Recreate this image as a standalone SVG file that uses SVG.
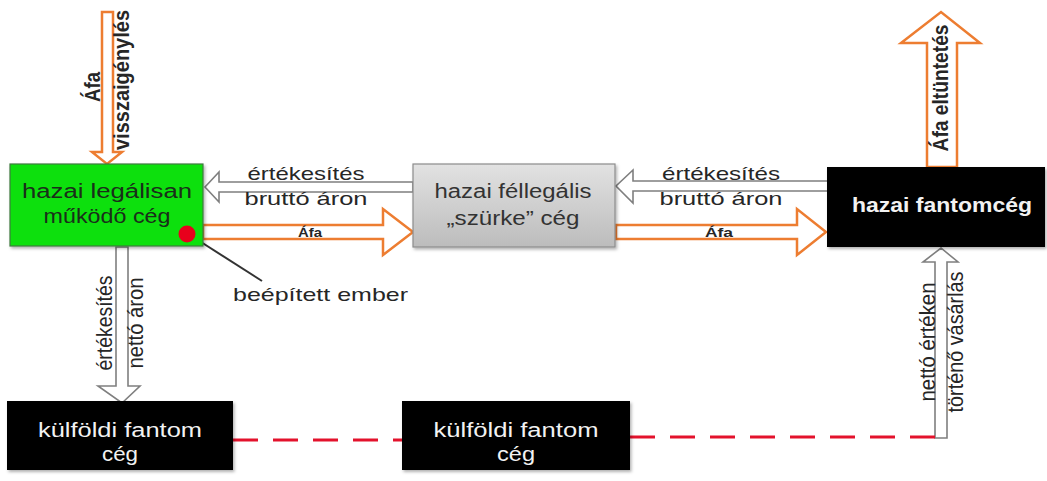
<svg xmlns="http://www.w3.org/2000/svg" width="1047" height="481" viewBox="0 0 1047 481">
  <defs>
    <linearGradient id="grayFill" x1="0" y1="0" x2="0" y2="1">
      <stop offset="0" stop-color="#e2e2e2"/>
      <stop offset="1" stop-color="#bcbcbc"/>
    </linearGradient>
    <filter id="soft" x="-10%" y="-10%" width="120%" height="130%">
      <feDropShadow dx="1.5" dy="2" stdDeviation="1.5" flood-color="#000" flood-opacity="0.3"/>
    </filter>
  </defs>
  <style>
    text { font-family: "Liberation Sans", Arial, sans-serif; }
    .lbl { font-size: 19px; fill: #262626; }
    .box { font-size: 20px; text-anchor: middle; }
    .white { fill: #f2f2f2; }
    .bold { font-weight: bold; }
    .mid { text-anchor: middle; }
    .orange { fill: #ffffff; stroke: #ed7d31; stroke-width: 2.5; stroke-linejoin: miter; }
    .grayArrow { fill: #ffffff; stroke: #7f7f7f; stroke-width: 1.6; stroke-linejoin: miter; }
    .dash { fill: none; stroke: #e3122c; stroke-width: 3; stroke-dasharray: 25 15; }
  </style>

  <rect width="1047" height="481" fill="#ffffff"/>

  <!-- connectors -->
  <g id="connectors">
    <!-- VAT reclaim arrow into the legal company -->
    <polygon class="orange" points="102,12 113,12 113,152 122,152 107,164 92,152 102,152"/>
    <!-- VAT disappearing arrow out of the phantom company -->
    <polygon class="orange" points="927,167 927,43 901,43 941,12 980,43 957,43 957,167"/>
    <!-- sales at gross price -->
    <polygon class="grayArrow" points="413,182 219,182 219,172 205,187 219,202 219,192 413,192"/>
    <polygon class="grayArrow" points="830,181 633,181 633,170 616,186 633,203 633,191 830,191"/>
    <rect x="828" y="180" width="4" height="12" fill="#7f7f7f"/>
    <!-- VAT flow -->
    <polygon class="orange" points="203,225 383,225 383,209 413,232 383,255 383,239 203,239"/>
    <polygon class="orange" points="616,225 797,225 797,209 826,232 797,255 797,239 616,239"/>
    <!-- sales at net price -->
    <polygon class="grayArrow" points="116,247 128,247 128,386 140,386 122,403 98,386 116,386"/>
    <!-- purchase at net value -->
    <polygon class="grayArrow" points="935,438 935,262 923,262 941,248 958,262 947,262 947,438"/>
    <!-- hidden link between foreign phantoms -->
    <line class="dash" x1="233" y1="440" x2="402" y2="440"/>
    <line class="dash" x1="630" y1="437" x2="935" y2="437"/>
    <!-- insider pointer -->
    <line x1="190" y1="235" x2="262" y2="281" stroke="#333333" stroke-width="2"/>

    <!-- connector labels (vertical ones are widened across the line) -->
    <text class="bold" font-size="19" fill="#262626" text-anchor="middle" textLength="30" lengthAdjust="spacingAndGlyphs" transform="translate(100,87) rotate(-90) scale(1,1.15)">Áfa</text>
    <text class="bold" font-size="18" fill="#262626" text-anchor="middle" textLength="140" lengthAdjust="spacingAndGlyphs" transform="translate(129,80) rotate(-90) scale(1,1.2)">visszaigénylés</text>
    <text class="bold" font-size="19" fill="#262626" text-anchor="middle" textLength="127" lengthAdjust="spacingAndGlyphs" transform="translate(948,88) rotate(-90) scale(1,1.15)">Áfa eltüntetés</text>

    <text class="lbl mid" x="306" y="180" textLength="117" lengthAdjust="spacingAndGlyphs">értékesítés</text>
    <text class="lbl mid" x="306" y="205" textLength="123" lengthAdjust="spacingAndGlyphs">bruttó áron</text>
    <text class="lbl mid" x="721" y="180" textLength="118" lengthAdjust="spacingAndGlyphs">értékesítés</text>
    <text class="lbl mid" x="721" y="205" textLength="123" lengthAdjust="spacingAndGlyphs">bruttó áron</text>

    <text class="bold mid" font-size="13" fill="#262626" x="310" y="237" textLength="24" lengthAdjust="spacingAndGlyphs">Áfa</text>
    <text class="bold mid" font-size="13" fill="#262626" x="719" y="237" textLength="28" lengthAdjust="spacingAndGlyphs">Áfa</text>

    <text class="lbl mid" textLength="95" lengthAdjust="spacingAndGlyphs" transform="translate(112,323) rotate(-90) scale(1,1.2)">értékesítés</text>
    <text class="lbl mid" textLength="91" lengthAdjust="spacingAndGlyphs" transform="translate(143,323) rotate(-90) scale(1,1.2)">nettó áron</text>
    <text class="lbl mid" textLength="119" lengthAdjust="spacingAndGlyphs" transform="translate(935,342) rotate(-90) scale(1,1.2)">nettó értéken</text>
    <text class="lbl mid" textLength="141" lengthAdjust="spacingAndGlyphs" transform="translate(963,342) rotate(-90) scale(1,1.2)">történő vásárlás</text>
  </g>

  <!-- nodes -->
  <g id="legal-company">
    <rect x="10" y="164" width="193" height="82" fill="#0fe00f" stroke="#3c7a3c" stroke-width="1.2" filter="url(#soft)"/>
    <text class="box" fill="#1a2e1a" x="107" y="198" textLength="170" lengthAdjust="spacingAndGlyphs">hazai legálisan</text>
    <text class="box" fill="#1a2e1a" x="107" y="223" textLength="127" lengthAdjust="spacingAndGlyphs">működő cég</text>
  </g>

  <g id="insider">
    <circle cx="187" cy="234" r="8.5" fill="#e8001c"/>
    <text class="lbl" x="233" y="301" textLength="175" lengthAdjust="spacingAndGlyphs">beépített ember</text>
  </g>

  <g id="grey-company">
    <rect x="413" y="164" width="202" height="83" fill="url(#grayFill)" stroke="#8c8c8c" stroke-width="1.2" filter="url(#soft)"/>
    <text class="box" fill="#333333" x="513" y="198" textLength="157" lengthAdjust="spacingAndGlyphs">hazai féllegális</text>
    <text class="box" fill="#333333" x="513" y="225" textLength="133" lengthAdjust="spacingAndGlyphs">„szürke” cég</text>
  </g>

  <g id="domestic-phantom">
    <rect x="827" y="167" width="218" height="80" fill="#000000" filter="url(#soft)"/>
    <text class="box bold white" font-size="21" x="942" y="212" textLength="180" lengthAdjust="spacingAndGlyphs">hazai fantomcég</text>
  </g>

  <g id="foreign-phantom-1">
    <rect x="7" y="401" width="226" height="69" fill="#000000" filter="url(#soft)"/>
    <text class="box white" x="120" y="437" textLength="164" lengthAdjust="spacingAndGlyphs">külföldi fantom</text>
    <text class="box white" x="120" y="461" textLength="36" lengthAdjust="spacingAndGlyphs">cég</text>
  </g>

  <g id="foreign-phantom-2">
    <rect x="402" y="401" width="228" height="69" fill="#000000" filter="url(#soft)"/>
    <text class="box white" x="516" y="437" textLength="165" lengthAdjust="spacingAndGlyphs">külföldi fantom</text>
    <text class="box white" x="516" y="461" textLength="38" lengthAdjust="spacingAndGlyphs">cég</text>
  </g>
</svg>
